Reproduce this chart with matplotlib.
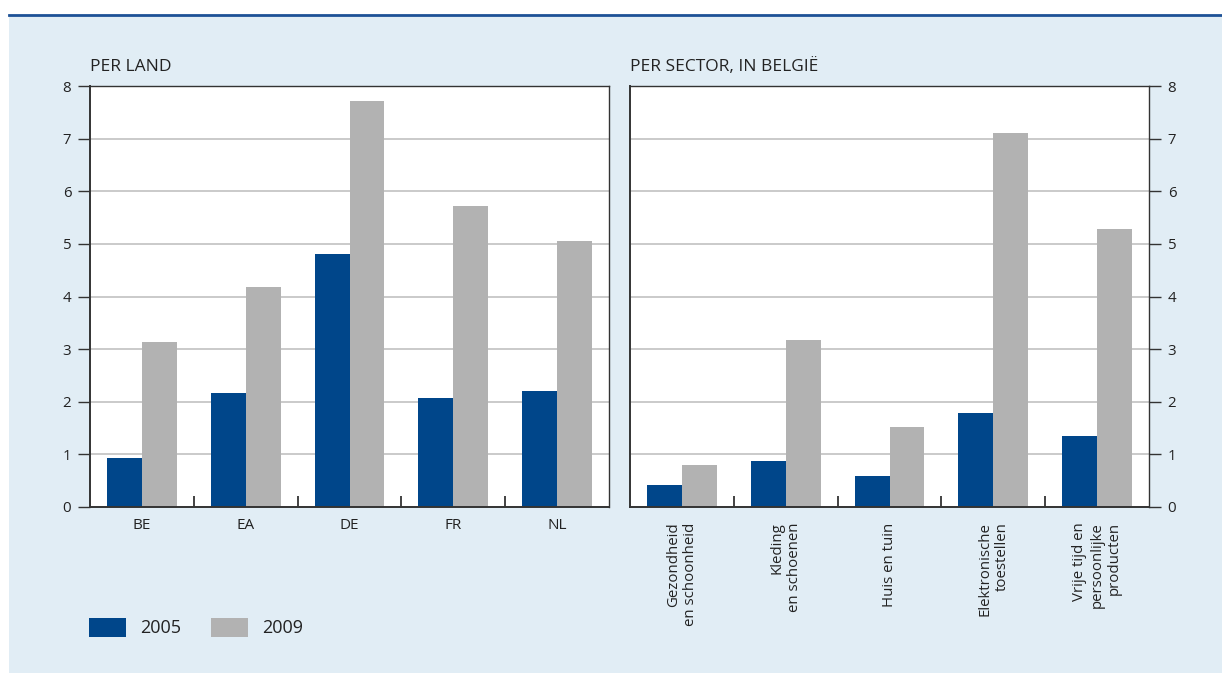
#!/usr/bin/env python3
# Bar charts: per land / per sector in Belgie, 2005 vs 2009
import numpy as np
import matplotlib
matplotlib.use("Agg")
import matplotlib.pyplot as plt
from matplotlib.patches import Rectangle, Patch
from matplotlib.lines import Line2D
from matplotlib.ticker import FixedLocator, NullFormatter

plt.rcParams["font.family"] = ["Open Sans", "DejaVu Sans"]

# data
years = ["2005", "2009"]
countries = ["BE", "EA", "DE", "FR", "NL"]
country_2005 = [0.93, 2.16, 4.80, 2.08, 2.20]
country_2009 = [3.13, 4.18, 7.71, 5.72, 5.05]

sectors = ["Gezondheid\nen schoonheid", "Kleding\nen schoenen", "Huis en tuin",
           "Elektronische\ntoestellen", "Vrije tijd en\npersoonlijke\nproducten"]
sector_2005 = [0.41, 0.87, 0.58, 1.79, 1.35]
sector_2009 = [0.79, 3.18, 1.52, 7.11, 5.28]

yticks = [0, 1, 2, 3, 4, 5, 6, 7, 8]

BLUE = "#00468a"
GREY = "#b2b2b2"
BG = "#e1edf5"
TXT = "#222222"

W, H = 1222, 673
fig = plt.figure(figsize=(W / 100, H / 100), dpi=100)
fig.patch.set_facecolor("white")

# light blue panel + dark blue rule on top
fig.patches.append(Rectangle((9 / W, 0), 1 - 9 / W, 1 - 15 / H, transform=fig.transFigure,
                             facecolor=BG, edgecolor="none", zorder=-10))
fig.lines.append(Line2D([9 / W, 1], [1 - 14.5 / H, 1 - 14.5 / H], transform=fig.transFigure,
                        color="#1d5196", linewidth=2.0))


def draw_panel(ax, labels, v05, v09, title, right=False, rotate=False):
    x = np.arange(len(labels))
    bw = 0.337
    ax.bar(x - bw / 2, v05, width=bw, color=BLUE, zorder=3)
    ax.bar(x + bw / 2, v09, width=bw, color=GREY, zorder=3)
    ax.set_xlim(-0.5, len(labels) - 0.5)
    ax.set_ylim(0, 8)
    ax.set_facecolor("white")
    ax.set_yticks(yticks)
    ax.yaxis.grid(True, color="#bcbcbc", linewidth=1.1, zorder=1)
    ax.set_axisbelow(True)
    for s in ax.spines.values():
        s.set_color("#333333")
        s.set_linewidth(1.0)
        s.set_zorder(5)
    ax.spines["left"].set_linewidth(1.4)
    ax.spines["bottom"].set_linewidth(1.4)
    if right:
        ax.yaxis.tick_right()
    ax.tick_params(axis="y", direction="out", length=8.5, width=1.0, pad=5,
                   labelsize=10.8, colors=TXT, color="#333333")
    # group separators as small inward ticks
    ax.set_xticks(x)
    ax.tick_params(axis="x", which="major", length=0, colors=TXT)
    ax.xaxis.set_minor_locator(FixedLocator(x[:-1] + 0.5))
    ax.xaxis.set_minor_formatter(NullFormatter())
    ax.tick_params(axis="x", which="minor", direction="in", length=8, width=1.2, color="#222222")
    if rotate:
        ax.set_xticklabels(labels, rotation=90, ha="center", va="top",
                           multialignment="right", fontsize=10.8, linespacing=1.2)
        ax.tick_params(axis="x", which="major", pad=11)
    else:
        ax.set_xticklabels(labels, fontsize=11)
        ax.tick_params(axis="x", which="major", pad=8)
    ax.text(0, 1.026, title, transform=ax.transAxes, fontsize=12.5, color=TXT,
            ha="left", va="bottom")


ax1 = fig.add_axes([90 / W, 1 - 507 / H, 519 / W, 421 / H])
ax2 = fig.add_axes([630 / W, 1 - 507 / H, 519 / W, 421 / H])
draw_panel(ax1, countries, country_2005, country_2009, "PER LAND")
draw_panel(ax2, sectors, sector_2005, sector_2009, "PER SECTOR, IN BELGIË", right=True, rotate=True)

handles = [Patch(facecolor=BLUE, edgecolor="none"), Patch(facecolor=GREY, edgecolor="none")]
fig.legend(handles, years, loc="center left", bbox_to_anchor=(89 / W, 1 - 627.5 / H),
           ncol=2, frameon=False, fontsize=13, handlelength=2.05, handleheight=1.28,
           handletextpad=0.78, columnspacing=1.67, borderpad=0, borderaxespad=0,
           labelcolor=TXT)

fig.savefig("out.png", dpi=100, facecolor=fig.get_facecolor())
